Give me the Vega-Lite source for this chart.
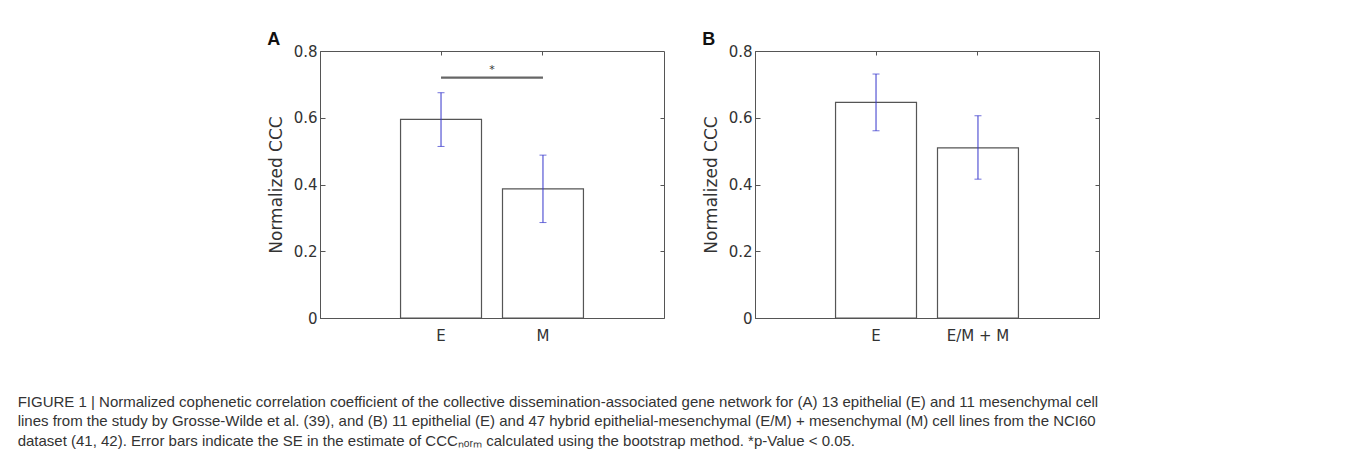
{
  "$schema": "https://vega.github.io/schema/vega-lite/v6.json",
  "background": "white",
  "padding": {"left": 17, "top": 30, "right": 0, "bottom": 0},
  "datasets": {
    "a": [
      {"group": "E", "value": 0.595, "lo": 0.514, "hi": 0.675},
      {"group": "M", "value": 0.387, "lo": 0.286, "hi": 0.488}
    ],
    "b": [
      {"group": "E", "value": 0.646, "lo": 0.561, "hi": 0.731},
      {"group": "E/M + M", "value": 0.51, "lo": 0.416, "hi": 0.606}
    ],
    "sigA": [
      {"from": "E", "to": "M", "y": 0.72, "label": "*"}
    ]
  },
  "title": {
    "text": [
      "FIGURE 1 | Normalized cophenetic correlation coefficient of the collective dissemination-associated gene network for (A) 13 epithelial (E) and 11 mesenchymal cell",
      "lines from the study by Grosse-Wilde et al. (39), and (B) 11 epithelial (E) and 47 hybrid epithelial-mesenchymal (E/M) + mesenchymal (M) cell lines from the NCI60",
      "dataset (41, 42). Error bars indicate the SE in the estimate of CCCₙₒᵣₘ calculated using the bootstrap method. *p-Value < 0.05."
    ],
    "orient": "bottom",
    "anchor": "start",
    "frame": "bounds",
    "dx": -249,
    "offset": 51,
    "font": "Liberation Sans",
    "fontSize": 15,
    "fontWeight": "normal",
    "color": "#333333",
    "lineHeight": 19.5
  },
  "spacing": 36,
  "hconcat": [
    {
      "title": {"text": "A", "anchor": "start", "frame": "bounds", "font": "Liberation Sans", "fontSize": 18, "fontWeight": "bold", "color": "#111111", "offset": -5},
      "width": 344,
      "height": 267,
      "resolve": {"axis": {"x": "independent", "y": "independent"}},
      "layer": [
        {
          "data": {"name": "a"},
          "mark": {"type": "bar", "fill": "white", "stroke": "#555555", "strokeWidth": 1.2},
          "encoding": {
            "x": {"field": "group", "type": "nominal", "sort": null, "scale": {"paddingInner": 0.206, "paddingOuter": 0.79},
              "axis": {"title": null, "labelAngle": 0, "labelPadding": 15}},
            "y": {"field": "value", "type": "quantitative", "title": "Normalized CCC", "scale": {"domain": [0, 0.8], "nice": false},
              "axis": {"values": [0, 0.2, 0.4, 0.6, 0.8], "labelExpr": "datum.value === 0 ? '0' : format(datum.value, '.1f')", "labelPadding": 8, "titlePadding": 8, "labelFlush": false}}
          }
        },
        {
          "data": {"name": "a"},
          "mark": {"type": "errorbar", "color": "#3535cc", "thickness": 1, "ticks": {"size": 7}},
          "encoding": {
            "x": {"field": "group", "type": "nominal", "sort": null,
              "axis": {"orient": "top", "labels": false, "title": null, "domain": false, "tickSize": -4}},
            "y": {"field": "lo", "type": "quantitative", "title": null,
              "axis": {"orient": "right", "labels": false, "title": null, "domain": false, "tickSize": -4, "values": [0.2, 0.4, 0.6]}},
            "y2": {"field": "hi"}
          }
        },
        {
          "data": {"name": "sigA"},
          "mark": {"type": "rule", "color": "#666666", "strokeWidth": 2.2},
          "encoding": {
            "x": {"field": "from", "type": "nominal", "sort": null, "axis": null},
            "x2": {"field": "to"},
            "y": {"field": "y", "type": "quantitative", "axis": null}
          }
        },
        {
          "data": {"name": "sigA"},
          "mark": {"type": "text", "fontSize": 11, "baseline": "bottom", "dy": -3, "color": "#333333", "font": "DejaVu Sans"},
          "encoding": {
            "x": {"field": "from", "type": "nominal", "sort": null, "bandPosition": 1.13, "axis": null},
            "y": {"field": "y", "type": "quantitative", "axis": null},
            "text": {"field": "label"}
          }
        }
      ]
    },
    {
      "title": {"text": "B", "anchor": "start", "frame": "bounds", "font": "Liberation Sans", "fontSize": 18, "fontWeight": "bold", "color": "#111111", "offset": -5},
      "width": 344,
      "height": 267,
      "resolve": {"axis": {"x": "independent", "y": "independent"}},
      "layer": [
        {
          "data": {"name": "b"},
          "mark": {"type": "bar", "fill": "white", "stroke": "#555555", "strokeWidth": 1.2},
          "encoding": {
            "x": {"field": "group", "type": "nominal", "sort": null, "scale": {"paddingInner": 0.206, "paddingOuter": 0.79},
              "axis": {"title": null, "labelAngle": 0, "labelPadding": 15}},
            "y": {"field": "value", "type": "quantitative", "title": "Normalized CCC", "scale": {"domain": [0, 0.8], "nice": false},
              "axis": {"values": [0, 0.2, 0.4, 0.6, 0.8], "labelExpr": "datum.value === 0 ? '0' : format(datum.value, '.1f')", "labelPadding": 8, "titlePadding": 8, "labelFlush": false}}
          }
        },
        {
          "data": {"name": "b"},
          "mark": {"type": "errorbar", "color": "#3535cc", "thickness": 1, "ticks": {"size": 7}},
          "encoding": {
            "x": {"field": "group", "type": "nominal", "sort": null,
              "axis": {"orient": "top", "labels": false, "title": null, "domain": false, "tickSize": -4}},
            "y": {"field": "lo", "type": "quantitative", "title": null,
              "axis": {"orient": "right", "labels": false, "title": null, "domain": false, "tickSize": -4, "values": [0.2, 0.4, 0.6]}},
            "y2": {"field": "hi"}
          }
        }
      ]
    }
  ],
  "config": {
    "view": {"stroke": "#555555", "strokeWidth": 1},
    "axis": {
      "domainColor": "#555555",
      "tickColor": "#555555",
      "tickSize": -5,
      "labelColor": "#333333",
      "titleColor": "#333333",
      "labelFont": "DejaVu Sans",
      "titleFont": "DejaVu Sans",
      "labelFontSize": 15,
      "titleFontSize": 17,
      "titleFontWeight": "normal",
      "grid": false
    }
  }
}
